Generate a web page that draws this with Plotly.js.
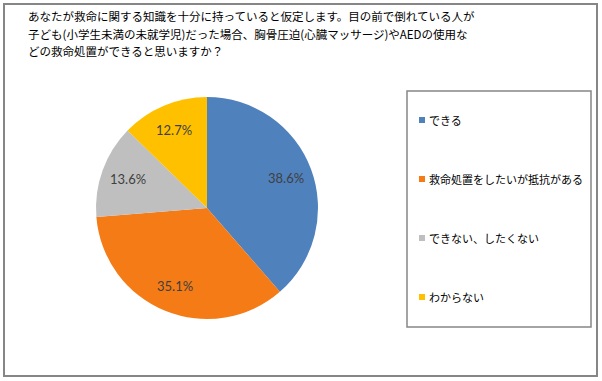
<!DOCTYPE html>
<html>
<head>
<meta charset="utf-8">
<script src="https://cdn.plot.ly/plotly-3.0.1.min.js"></script>
<style>html,body{margin:0;padding:0;background:#fff}#chart{width:602px;height:381px}</style>
</head>
<body>
<div id="chart"></div>
<script>
const titleLines = [
  "あなたが救命に関する知識を十分に持っていると仮定します。目の前で倒れている人が",
  "子ども(小学生未満の未就学児)だった場合、胸骨圧迫(心臓マッサージ)やAEDの使用な",
  "どの救命処置ができると思いますか？"
];
const categories = ["できる", "救命処置をしたいが抵抗がある", "できない、したくない", "わからない"];
const values = [38.6, 35.1, 13.6, 12.7];
const colors = ["#4F81BD", "#F47B16", "#BFBFBF", "#FFC000"];

const W = 602, H = 381;
const px = x => x / W;
const py = y => 1 - y / H;
const jp = '"Noto Sans CJK JP", "Noto Sans", sans-serif';

// pie geometry (pixels)
const cx = 207, cy = 208, R = 111;

const shapes = [
  {type: 'rect', xref: 'paper', yref: 'paper', x0: px(4), x1: px(597), y0: py(376), y1: py(4),
   line: {color: '#868686', width: 2}},
  {type: 'rect', xref: 'paper', yref: 'paper', x0: px(407), x1: px(591), y0: py(327), y1: py(91),
   line: {color: '#868686', width: 1.5}}
];
const annotations = [];
titleLines.forEach((t, i) => {
  annotations.push({xref: 'paper', yref: 'paper', x: px(26), y: py(16 + i * 17.5), xanchor: 'left', yanchor: 'middle',
    showarrow: false, text: t, font: {family: jp, size: 11.5, color: '#000'}});
});
categories.forEach((c, i) => {
  const yc = 120 + i * 59;
  shapes.push({type: 'rect', xref: 'paper', yref: 'paper', x0: px(419), x1: px(425), y0: py(yc + 3), y1: py(yc - 3),
    fillcolor: colors[i], line: {width: 0}});
  annotations.push({xref: 'paper', yref: 'paper', x: px(427), y: py(yc), xanchor: 'left', yanchor: 'middle',
    showarrow: false, text: c, font: {family: jp, size: 11, color: '#000'}});
});
// percentage labels placed at the middle angle of each slice
const total = values.reduce((a, b) => a + b, 0);
let cum = 0;
values.forEach((v, i) => {
  const mid = (cum + v / 2) / total * 2 * Math.PI;
  cum += v;
  const rr = R * 0.76;
  annotations.push({xref: 'paper', yref: 'paper', x: px(cx + rr * Math.sin(mid)), y: py(cy - rr * Math.cos(mid)),
    xanchor: 'center', yanchor: 'middle', showarrow: false, text: v.toFixed(1) + '%',
    font: {family: 'Lato, "Open Sans", sans-serif', size: 13, color: '#404040'}});
});

const data = [{
  type: 'pie',
  labels: categories,
  values: values,
  sort: false,
  direction: 'clockwise',
  rotation: 0,
  marker: {colors: colors, line: {width: 0}},
  textinfo: 'none',
  hoverinfo: 'none',
  domain: {x: [px(cx - R), px(cx + R)], y: [py(cy + R), py(cy - R)]},
  showlegend: false
}];

const layout = {
  width: W, height: H,
  margin: {l: 0, r: 0, t: 0, b: 0},
  paper_bgcolor: '#fff',
  shapes: shapes,
  annotations: annotations,
  showlegend: false
};
Plotly.newPlot('chart', data, layout, {displayModeBar: false, staticPlot: true});
</script>
</body>
</html>
